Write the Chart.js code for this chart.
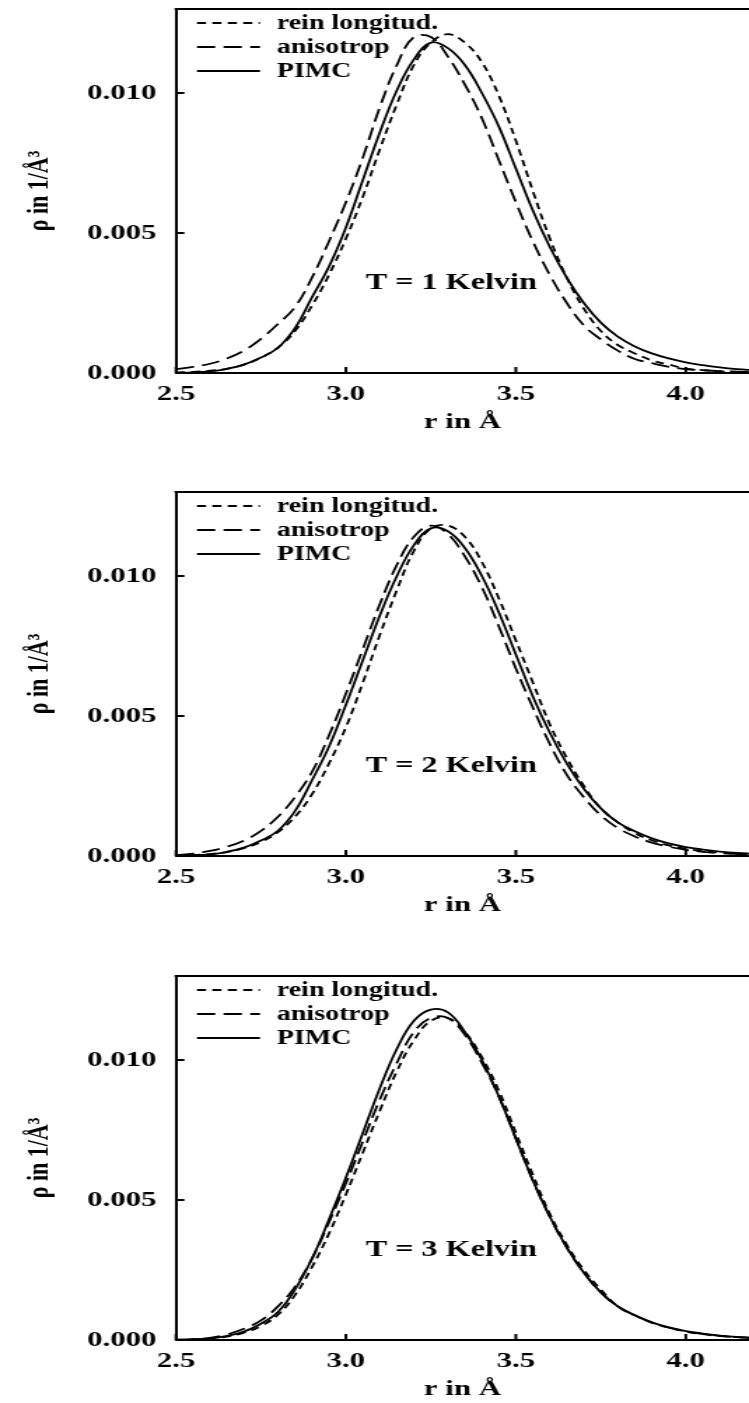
<!DOCTYPE html>
<html>
<head>
<meta charset="utf-8">
<script src="https://cdn.jsdelivr.net/npm/chart.js@4.4.1/dist/chart.umd.min.js"></script>
<style>
  html, body { margin: 0; padding: 0; background: #fff; overflow: hidden; }
  canvas { position: absolute; left: 0; }
</style>
</head>
<body>
<!-- the original figure is stretched sideways, so the canvases are drawn narrow and widened by css -->
<canvas id="c1" width="535" height="484" style="top:0px;width:749px;height:484px"></canvas>
<canvas id="c2" width="535" height="484" style="top:483px;width:749px;height:484px"></canvas>
<canvas id="c3" width="535" height="484" style="top:967px;width:749px;height:484px"></canvas>
<script>
const rValues = [2.5, 2.55, 2.6, 2.65, 2.7, 2.75, 2.8, 2.85, 2.9, 2.95, 3.0, 3.05, 3.1, 3.15, 3.2, 3.25, 3.3, 3.35,
                 3.4, 3.45, 3.5, 3.55, 3.6, 3.65, 3.7, 3.75, 3.8, 3.85, 3.9, 3.95, 4.0, 4.05, 4.1, 4.15, 4.2];

const xTicks = [2.5, 3.0, 3.5, 4.0];
const xTickLabels = ['2.5', '3.0', '3.5', '4.0'];
const yTicks = [0, 0.005, 0.010];
const yTickLabels = ['0.000', '0.005', '0.010'];

const seriesNames = ['rein longitud.', 'anisotrop', 'PIMC'];
const panelLabels = ['T = 1 Kelvin', 'T = 2 Kelvin', 'T = 3 Kelvin'];

// T = 1 K
const reinT1  = [0.00002, 0.00004, 0.00008, 0.00015, 0.0003, 0.00055, 0.0009, 0.0015, 0.0024, 0.0035, 0.0048, 0.0063,
                 0.0080, 0.0096, 0.0110, 0.0118, 0.0121, 0.0118, 0.0111, 0.0099, 0.0083, 0.0065, 0.0048, 0.0034,
                 0.0023, 0.0015, 0.0010, 0.0007, 0.00045, 0.0003, 0.00016, 0.0001, 0.00006, 0.00004, 0.00002];
const anisoT1 = [0.00014, 0.00022, 0.00033, 0.00052, 0.0008, 0.00122, 0.00175, 0.00235, 0.0034, 0.0047, 0.0061, 0.0077,
                 0.0095, 0.0110, 0.0120, 0.0120, 0.0113, 0.0103, 0.0091, 0.0076, 0.0061, 0.0047, 0.0035, 0.0025,
                 0.0017, 0.0012, 0.0008, 0.0005, 0.00035, 0.00022, 0.00014, 0.0001, 0.00007, 0.00005, 0.00003];
const pimcT1  = [0.0, 0.00002, 0.00006, 0.00015, 0.0003, 0.00055, 0.0009, 0.0016, 0.0027, 0.0038, 0.0052, 0.0069,
                 0.0086, 0.0101, 0.0112, 0.0118, 0.0116, 0.0110, 0.0100, 0.0088, 0.0073, 0.0058, 0.0045, 0.0034,
                 0.0025, 0.0018, 0.0013, 0.00095, 0.0007, 0.00052, 0.00038, 0.00028, 0.0002, 0.00014, 0.0001];

// T = 2 K
const reinT2  = [0.00001, 0.00003, 0.00007, 0.00014, 0.00028, 0.0005, 0.00085, 0.0014, 0.0022, 0.0033, 0.0046, 0.0062,
                 0.0079, 0.0095, 0.0109, 0.0117, 0.0118, 0.0114, 0.0105, 0.0092, 0.0077, 0.0062, 0.0047, 0.0035,
                 0.0025, 0.0017, 0.0012, 0.00082, 0.00056, 0.00038, 0.00026, 0.00018, 0.00012, 0.00008, 0.00005];
const anisoT2 = [0.00003, 0.00008, 0.00018, 0.00033, 0.00055, 0.0009, 0.0014, 0.0021, 0.0030, 0.0043, 0.0058, 0.0074,
                 0.0090, 0.0104, 0.0114, 0.0118, 0.0115, 0.0107, 0.0096, 0.0082, 0.0067, 0.0053, 0.0040, 0.0029,
                 0.0021, 0.00145, 0.0010, 0.0007, 0.00048, 0.00033, 0.00022, 0.00015, 0.0001, 0.00007, 0.00005];
const pimcT2  = [0.0, 0.00002, 0.00006, 0.00015, 0.0003, 0.00055, 0.0009, 0.0016, 0.0027, 0.0039, 0.0054, 0.0070,
                 0.0086, 0.0100, 0.0111, 0.0117, 0.0116, 0.0110, 0.0100, 0.0087, 0.0072, 0.0057, 0.0044, 0.0033,
                 0.0024, 0.0017, 0.0012, 0.00088, 0.00063, 0.00045, 0.00032, 0.00023, 0.00016, 0.00011, 0.00008];

// T = 3 K
const reinT3  = [0.00001, 0.00002, 0.00005, 0.00012, 0.00026, 0.0005, 0.0009, 0.0016, 0.0026, 0.0038, 0.0052, 0.0067,
                 0.0082, 0.0096, 0.0107, 0.0114, 0.0115, 0.0110, 0.0101, 0.0089, 0.0074, 0.0059, 0.0045, 0.0034,
                 0.0025, 0.0018, 0.0012, 0.00088, 0.00062, 0.00044, 0.0003, 0.00021, 0.00014, 0.0001, 0.00007];
const anisoT3 = [0.00001, 0.00003, 0.00008, 0.0002, 0.0004, 0.0007, 0.0012, 0.0019, 0.0029, 0.0042, 0.0056, 0.0071,
                 0.0086, 0.0099, 0.0110, 0.0115, 0.0115, 0.0109, 0.0099, 0.0087, 0.0072, 0.0057, 0.0044, 0.0033,
                 0.0024, 0.0017, 0.0012, 0.00088, 0.00062, 0.00044, 0.00031, 0.00022, 0.00015, 0.0001, 0.00007];
const pimcT3  = [0.0, 0.00002, 0.00006, 0.00015, 0.0003, 0.00058, 0.0010, 0.0018, 0.0029, 0.0043, 0.0058, 0.0074,
                 0.0090, 0.0104, 0.0114, 0.0118, 0.0117, 0.0110, 0.0100, 0.0087, 0.0072, 0.0057, 0.0044, 0.0033,
                 0.0024, 0.0017, 0.0012, 0.00088, 0.00063, 0.00045, 0.00032, 0.00023, 0.00016, 0.00011, 0.00008];

const FONT = '"Liberation Serif", "Times New Roman", serif';
const dashes = [[6.5, 4.5], [13, 6], []];

const toPoints = ys => rValues.map((r, i) => ({ x: r, y: ys[i] }));

// top frame, inward tick marks, legend and temperature label
const decorPlugin = {
    id: 'decor',
    afterDraw(chart) {
        const { ctx, chartArea: a, scales: { x, y } } = chart;
        ctx.save();
        ctx.strokeStyle = '#000';
        ctx.lineWidth = 2;
        ctx.beginPath();
        ctx.moveTo(a.left - 1, a.top);
        ctx.lineTo(a.right, a.top);
        ctx.stroke();

        xTicks.forEach(v => {
            const px = x.getPixelForValue(v);
            ctx.beginPath();
            ctx.moveTo(px, a.bottom);
            ctx.lineTo(px, a.bottom - 6);
            ctx.stroke();
        });
        yTicks.forEach(v => {
            const py = y.getPixelForValue(v);
            ctx.beginPath();
            ctx.moveTo(a.left, py);
            ctx.lineTo(a.left + 6, py);
            ctx.stroke();
        });

        // legend
        ctx.font = 'bold 20px ' + FONT;
        ctx.fillStyle = '#000';
        ctx.textBaseline = 'middle';
        ctx.textAlign = 'left';
        chart.data.datasets.forEach((ds, i) => {
            const ly = a.top + 14 + i * 24;
            ctx.lineWidth = 1.8;
            ctx.setLineDash(ds.borderDash || []);
            ctx.beginPath();
            ctx.moveTo(a.left + 15, ly);
            ctx.lineTo(a.left + 60, ly);
            ctx.stroke();
            ctx.setLineDash([]);
            ctx.fillText(ds.label, a.left + 72, ly + 1);
        });

        // temperature label
        ctx.font = 'bold 23px ' + FONT;
        ctx.textAlign = 'center';
        ctx.fillText(chart.options.plugins.decor.text, x.getPixelForValue(3.31), y.getPixelForValue(0.0032));
        ctx.restore();
    }
};

function makePanel(id, label, rein, aniso, pimc) {
    const series = [rein, aniso, pimc];
    return new Chart(document.getElementById(id), {
        type: 'line',
        data: {
            datasets: series.map((ys, i) => ({
                label: seriesNames[i],
                data: toPoints(ys),
                borderColor: '#000',
                borderWidth: 1.8,
                borderDash: dashes[i],
                pointRadius: 0,
                fill: false,
                tension: 0.4
            }))
        },
        plugins: [decorPlugin],
        options: {
            responsive: false,
            devicePixelRatio: 1,
            animation: false,
            layout: { padding: { top: 9, left: 0, right: 0, bottom: 0 } },
            plugins: {
                legend: { display: false },
                tooltip: { enabled: false },
                decor: { text: label }
            },
            scales: {
                x: {
                    type: 'linear',
                    min: 2.5,
                    max: 4.186,
                    afterBuildTicks: s => { s.ticks = xTicks.map(v => ({ value: v })); },
                    afterFit: s => { s.height = 111; s.paddingLeft = 0; s.paddingRight = 0; },
                    ticks: {
                        callback: (v, i) => xTickLabels[i],
                        autoSkip: false,
                        maxRotation: 0,
                        padding: 8,
                        color: '#000',
                        font: { family: FONT, weight: 'bold', size: 22 }
                    },
                    grid: { display: true, drawOnChartArea: false, drawTicks: false },
                    border: { display: true, color: '#000', width: 2 },
                    title: {
                        display: true,
                        text: 'r in Å',
                        color: '#000',
                        padding: 48,
                        font: { family: FONT, weight: 'bold', size: 22 }
                    }
                },
                y: {
                    type: 'linear',
                    min: 0,
                    max: 0.013,
                    afterBuildTicks: s => { s.ticks = yTicks.map(v => ({ value: v })); },
                    afterFit: s => { s.width = 125.7; s.paddingTop = 0; s.paddingBottom = 0; },
                    ticks: {
                        callback: (v, i) => yTickLabels[i],
                        padding: 14,
                        color: '#000',
                        font: { family: FONT, weight: 'bold', size: 22 }
                    },
                    grid: { display: true, drawOnChartArea: false, drawTicks: false },
                    border: { display: true, color: '#000', width: 2 },
                    title: {
                        display: true,
                        text: 'ρ in 1/Å³',
                        color: '#000',
                        padding: 15,
                        font: { family: FONT, weight: 'bold', size: 22 }
                    }
                }
            }
        }
    });
}

makePanel('c1', panelLabels[0], reinT1, anisoT1, pimcT1);
makePanel('c2', panelLabels[1], reinT2, anisoT2, pimcT2);
makePanel('c3', panelLabels[2], reinT3, anisoT3, pimcT3);
</script>
</body>
</html>
